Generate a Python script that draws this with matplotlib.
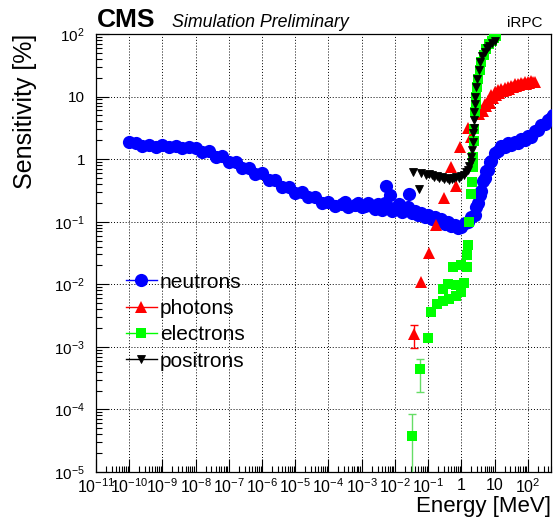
import numpy as np
import matplotlib
matplotlib.use("Agg")
import matplotlib.pyplot as plt
from matplotlib.lines import Line2D
from matplotlib.ticker import LogLocator, FuncFormatter, NullFormatter

plt.rcParams['font.family'] = ['Liberation Sans', 'DejaVu Sans']
plt.rcParams['mathtext.fontset'] = 'custom'
plt.rcParams['mathtext.rm'] = 'Liberation Sans'
plt.rcParams['mathtext.it'] = 'Liberation Sans:italic'
plt.rcParams['mathtext.bf'] = 'Liberation Sans:bold'

### Values (energy in MeV, sensitivity in %)
n_E = [1.0e-10, 1.6e-10, 2.5e-10, 4.0e-10, 6.3e-10, 1.0e-9, 1.6e-9, 2.5e-9, 4.0e-9, 6.3e-9,
       1.0e-8, 1.6e-8, 2.5e-8, 4.0e-8, 6.3e-8, 1.0e-7, 1.6e-7, 2.5e-7, 4.0e-7, 6.3e-7,
       1.0e-6, 1.6e-6, 2.5e-6, 4.0e-6, 6.3e-6, 1.0e-5, 1.6e-5, 2.5e-5, 4.0e-5, 6.3e-5,
       1.0e-4, 1.6e-4, 2.5e-4, 3.2e-4, 4.0e-4, 6.3e-4, 8.0e-4, 1.0e-3, 1.3e-3, 1.6e-3,
       2.0e-3, 2.5e-3, 3.2e-3, 4.0e-3, 5.0e-3, 5.4e-3, 6.3e-3, 7.1e-3, 8.0e-3, 1.0e-2,
       1.3e-2, 1.6e-2, 2.0e-2, 2.5e-2, 2.6e-2, 3.2e-2, 4.0e-2, 5.0e-2, 6.3e-2, 8.0e-2,
       0.10, 0.13, 0.16, 0.20, 0.25, 0.32, 0.40, 0.50, 0.63, 0.80,
       1.0, 1.25, 1.6, 2.0, 2.5, 2.8, 3.2, 3.6, 4.0, 4.5,
       5.0, 5.6, 6.3, 7.1, 8.0, 10.0, 12.6, 16.0, 20.0, 25.0,
       32.0, 40.0, 50.0, 63.0, 80.0, 100.0, 126.0, 160.0, 200.0, 250.0,
       320.0, 400.0, 500.0, 560.0]
n_S = [1.85, 1.78, 1.62, 1.70, 1.58, 1.66, 1.54, 1.62, 1.48, 1.56,
       1.50, 1.32, 1.34, 1.10, 1.12, 0.89, 0.89, 0.71, 0.73, 0.58,
       0.59, 0.46, 0.46, 0.355, 0.36, 0.29, 0.30, 0.245, 0.25, 0.20,
       0.21, 0.18, 0.195, 0.21, 0.17, 0.185, 0.20, 0.17, 0.18, 0.20,
       0.18, 0.16, 0.19, 0.155, 0.20, 0.37, 0.17, 0.27, 0.15, 0.165,
       0.19, 0.145, 0.155, 0.17, 0.28, 0.14, 0.15, 0.13, 0.14, 0.12,
       0.13, 0.112, 0.12, 0.103, 0.11, 0.093, 0.10, 0.084, 0.09, 0.078,
       0.082, 0.094, 0.10, 0.12, 0.13, 0.17, 0.20, 0.27, 0.31, 0.44,
       0.50, 0.64, 0.68, 0.90, 0.92, 1.25, 1.35, 1.62, 1.58, 1.78,
       1.68, 1.88, 1.82, 2.10, 2.00, 2.35, 2.30, 2.80, 2.90, 3.50,
       3.70, 4.30, 4.60, 5.10]

ph_E = [0.037, 0.061, 0.11, 0.17, 0.31, 0.50, 0.70, 0.89, 1.6, 2.0,
        3.5, 4.0, 4.5, 5.0, 5.6, 6.3, 7.1, 8.0, 8.9, 10.0,
        11.2, 12.6, 14.1, 16.0, 17.8, 20.0, 22.4, 25.0, 28.0, 32.0,
        35.0, 40.0, 45.0, 50.0, 56.0, 63.0, 71.0, 80.0, 89.0, 100.0,
        112.0, 126.0, 141.0, 160.0]
ph_S = [1.6e-3, 0.011, 0.032, 0.09, 0.24, 0.74, 0.37, 1.54, 3.2, 2.3,
        5.2, 6.2, 5.8, 7.6, 7.0, 8.6, 8.0, 10.5, 9.6, 11.8,
        10.6, 12.6, 11.6, 13.0, 12.2, 13.8, 12.8, 14.2, 13.4, 14.9,
        14.0, 15.6, 14.6, 16.0, 15.2, 16.6, 15.6, 17.0, 16.0, 17.4,
        16.4, 17.8, 16.8, 17.2]
ph_err_E = [0.037]
ph_err_lo = [9.5e-4]
ph_err_hi = [2.2e-3]

el_E = [0.032, 0.058, 0.10, 0.123, 0.187, 0.285, 0.43, 0.70, 1.0, 0.29,
        0.40, 0.70, 1.23, 0.57, 1.0, 1.52, 1.52, 1.63, 1.75, 2.0,
        2.1, 2.2, 2.26, 2.36, 2.45, 2.53, 2.7, 2.85, 3.0, 3.2,
        3.6, 4.0, 4.8, 5.7, 6.8, 8.1, 9.5, 11.0]
el_S = [3.7e-5, 4.4e-4, 1.4e-3, 3.6e-3, 4.8e-3, 5.5e-3, 5.8e-3, 6.4e-3, 7.4e-3, 8.4e-3,
        0.010, 9.7e-3, 0.0104, 0.0186, 0.020, 0.0186, 0.029, 0.042, 0.10, 0.28,
        0.43, 0.75, 1.08, 1.95, 3.0, 5.6, 7.5, 10.0, 14.0, 19.0,
        27.0, 36.0, 46.0, 57.0, 68.0, 78.0, 86.0, 92.0]
el_err_E = [0.032, 0.058]
el_err_S = [3.7e-5, 4.4e-4]
el_err_lo = [5.0e-6, 1.9e-4]
el_err_hi = [8.3e-5, 6.3e-4]

po_E = [0.034, 0.052, 0.061, 0.085, 0.107, 0.13, 0.15, 0.18, 0.215, 0.26,
        0.31, 0.37, 0.43, 0.52, 0.60, 0.70, 0.85, 1.0, 1.2, 1.42,
        1.6, 1.75, 1.9, 2.0, 2.1, 2.2, 2.3, 2.35, 2.4, 2.45,
        2.55, 2.65, 2.8, 3.05, 3.4, 3.76, 4.3, 5.0, 6.0, 7.0,
        8.5, 10.0]
po_S = [0.62, 0.33, 0.60, 0.56, 0.58, 0.55, 0.52, 0.54, 0.50, 0.52,
        0.48, 0.50, 0.46, 0.49, 0.50, 0.52, 0.50, 0.54, 0.56, 0.62,
        0.68, 0.77, 0.90, 1.10, 1.40, 1.90, 2.60, 3.20, 4.30, 5.60,
        7.50, 10.0, 14.0, 19.0, 27.0, 36.0, 45.0, 52.0, 59.0, 64.0,
        72.0, 78.0]

x_dec = list(range(-11, 3))
y_dec = list(range(-5, 3))


def dec_label(v, pos):
    e = int(round(np.log10(v)))
    if e == 0:
        return '1'
    if e == 1:
        return '10'
    return r'$10^{%d}$' % e


fig = plt.figure(figsize=(5.54, 5.20), dpi=100)
ax = fig.add_axes([96/554, 48/520, 455/554, 438/520])

ax.plot(n_E, n_S, 'o', color='#0000ff', ms=9.5, mew=0, zorder=3)
ax.plot(ph_E, ph_S, '^', color='#ff0000', ms=8.5, mew=0, zorder=4)
ax.errorbar(ph_err_E, [ph_S[0]], yerr=[[ph_S[0]-ph_err_lo[0]], [ph_err_hi[0]-ph_S[0]]],
            fmt='none', ecolor='#ff0000', elinewidth=1, capsize=3, zorder=4)
ax.errorbar(el_err_E, el_err_S,
            yerr=[np.array(el_err_S)-np.array(el_err_lo), np.array(el_err_hi)-np.array(el_err_S)],
            fmt='none', ecolor='#66dd66', elinewidth=1, capsize=3, zorder=5)
ax.plot(el_E, el_S, 's', color='#00ff00', ms=6.8, mew=0, zorder=5)
ax.plot(po_E, po_S, 'v', color='black', ms=5.5, mew=0.6, zorder=6)

ax.set_xscale('log')
ax.set_yscale('log')
ax.set_xlim(1e-11, 10**2.7)
ax.set_ylim(1e-5, 1e2)

ax.set_xticks([10.0**e for e in x_dec])
ax.set_yticks([10.0**e for e in y_dec])
ax.xaxis.set_major_formatter(FuncFormatter(dec_label))
ax.yaxis.set_major_formatter(FuncFormatter(dec_label))
ax.xaxis.set_minor_locator(LogLocator(base=10, subs=np.arange(2, 10), numticks=40))
ax.yaxis.set_minor_locator(LogLocator(base=10, subs=np.arange(2, 10), numticks=40))
ax.xaxis.set_minor_formatter(NullFormatter())
ax.yaxis.set_minor_formatter(NullFormatter())
ax.tick_params(which='both', direction='in', top=False, right=False, width=0.8)
ax.tick_params(which='major', length=9.5)
ax.tick_params(which='minor', length=4.5)
ax.tick_params(axis='x', labelsize=11.5, pad=4)
ax.tick_params(axis='y', labelsize=11, pad=8)

ax.grid(True, which='major', color='black', linestyle=(0, (1, 2)), linewidth=0.7)
ax.set_axisbelow(True)
for s in ax.spines.values():
    s.set_linewidth(0.9)

ax.set_xlabel('Energy [MeV]', fontsize=16, loc='right', labelpad=0)
ax.set_ylabel('Sensitivity [%]', fontsize=18, loc='top', labelpad=12)

fig.text(97/554, 493/520, 'CMS', fontsize=19, fontweight='bold', va='baseline')
fig.text(172/554, 493/520, 'Simulation Preliminary', fontsize=12.8, style='italic', va='baseline')
fig.text(542/554, 493/520, 'iRPC', fontsize=11, ha='right', va='baseline')

handles = [Line2D([], [], color='#0000ff', marker='o', ms=9.5, mew=0, lw=1),
           Line2D([], [], color='#ff0000', marker='^', ms=8.5, mew=0, lw=1),
           Line2D([], [], color='#00ff00', marker='s', ms=6.8, mew=0, lw=1),
           Line2D([], [], color='black', marker='v', ms=5.5, mew=0.6, lw=1)]
ax.legend(handles, ['neutrons', 'photons', 'electrons', 'positrons'],
          loc='upper left', bbox_to_anchor=(0.065, 0.455), frameon=False,
          fontsize=15, handlelength=1.5, handletextpad=0.15,
          labelspacing=0.35, borderpad=0, borderaxespad=0)

fig.savefig('out.png', dpi=100)
